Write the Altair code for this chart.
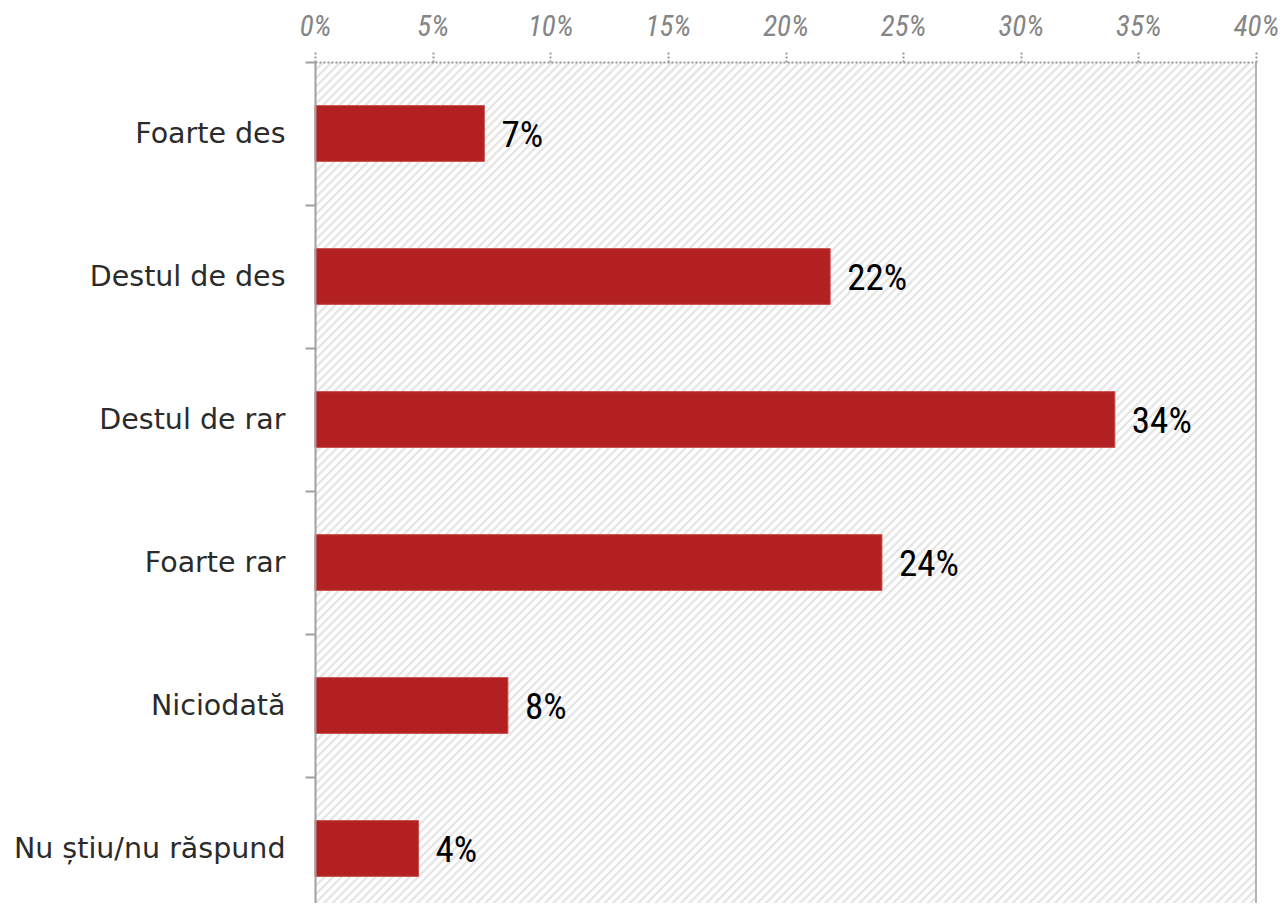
import altair as alt
import pandas as pd

categories = ["Foarte des", "Destul de des", "Destul de rar", "Foarte rar", "Niciodată", "Nu știu/nu răspund"]
values = [7.2, 21.9, 34.0, 24.1, 8.2, 4.4]
x_ticks = [0, 5, 10, 15, 20, 25, 30, 35, 40]

df = pd.DataFrame({"cat": categories, "v": values})

W, H = 941, 841
STEP_RANGE = 858
NARROW = "Roboto Condensed, Liberation Sans Narrow, Liberation Sans, sans-serif"

# decorative diagonal hatch behind the plot area
hatch = (
    alt.Chart(alt.sequence(0, 230, as_="i"))
    .transform_calculate(hx="datum.i * 8.5 - 860", hx2="datum.i * 8.5", hy="860", hy2="0")
    .mark_rule(stroke="#e6e6e6", strokeWidth=2.5, clip=True)
    .encode(
        x=alt.X("hx:Q", scale=None, axis=None),
        x2="hx2:Q",
        y=alt.Y("hy:Q", scale=None, axis=None),
        y2="hy2:Q",
    )
)

base = alt.Chart(df)

y_enc = alt.Y(
    "cat:N",
    sort=categories,
    scale=alt.Scale(paddingInner=0, paddingOuter=0, range=[0, STEP_RANGE]),
    axis=alt.Axis(
        title=None,
        orient="left",
        labelFont="DejaVu Sans",
        labelFontSize=28.5,
        labelColor="#2b2b2b",
        labelPadding=20,
        labelLimit=400,
        tickBand="extent",
        tickSize=10,
        tickColor="#a0a0a0",
        tickWidth=2,
        domainColor="#a0a0a0",
        domainWidth=2,
        grid=False,
        zindex=1,
    ),
)

x_enc = alt.X(
    "v:Q",
    scale=alt.Scale(domain=[0, 40], nice=False),
    axis=alt.Axis(
        title=None,
        orient="top",
        values=x_ticks,
        labelExpr="datum.value + '%'",
        labelFont=NARROW,
        labelFontSize=29,
        labelFontStyle="italic",
        labelColor="#858585",
        labelPadding=11,
        labelFlush=False,
        labelOverlap=False,
        tickSize=10,
        tickColor="#9a9a9a",
        tickWidth=2,
        tickDash=[2, 2],
        domainColor="#9a9a9a",
        domainWidth=2,
        domainDash=[2, 2],
        grid=False,
        zindex=1,
    ),
)

bars = base.mark_bar(
    color="#b22022", stroke="#c85050", strokeWidth=1, height=alt.RelativeBandSize(0.39)
).encode(x=x_enc, y=y_enc)

labels = (
    base.transform_calculate(lbl="format(datum.v, '.0f') + '%'")
    .mark_text(align="left", baseline="middle", dx=17, dy=2, font=NARROW,
               fontSize=37, color="#000000")
    .encode(x="v:Q", y=alt.Y("cat:N", sort=categories), text="lbl:N")
)

right_border = base.mark_rule(color="#b4b4b4", strokeWidth=2).encode(x=alt.datum(40))

main = alt.layer(bars, labels, right_border)

chart = (
    alt.layer(hatch, main)
    .resolve_scale(x="independent", y="independent")
    .properties(
        width=W,
        height=H,
        autosize=alt.AutoSizeParams(type="none"),
        padding={"left": 307, "top": 54, "right": 22, "bottom": 0},
    )
    .configure_view(stroke=None)
)

chart.save("out.html", embed_options={"renderer": "svg", "actions": False})
